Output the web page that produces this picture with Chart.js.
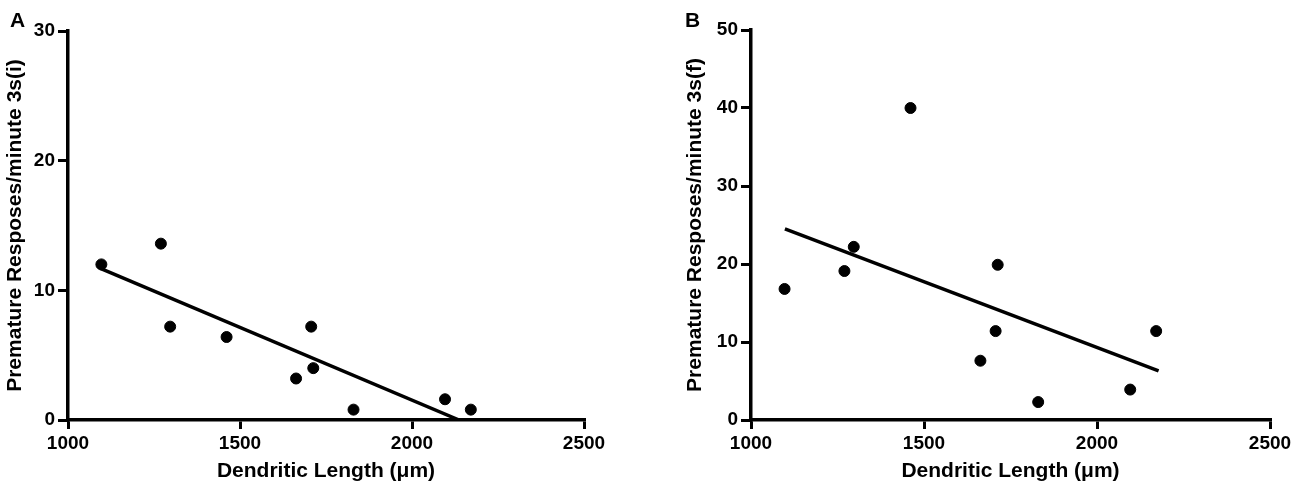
<!DOCTYPE html>
<html>
<head>
<meta charset="utf-8">
<script src="https://cdn.jsdelivr.net/npm/chart.js@4"></script>
<style>
  body { margin: 0; background: #fff; }
  #wrap { position: relative; width: 1300px; height: 493px; }
  .panel { position: absolute; top: 0; width: 650px; height: 493px; }
  .tag { position: absolute; top: 9px; font: bold 21px "Liberation Sans", Arial, sans-serif; line-height: 21px; color: #000; }
</style>
</head>
<body>
<div id="wrap">
  <div class="panel" style="left:0"><canvas id="chartA" width="650" height="493"></canvas></div>
  <div class="panel" style="left:650px"><canvas id="chartB" width="650" height="493"></canvas></div>
  <div class="tag" style="left:10px">A</div>
  <div class="tag" style="left:685px">B</div>
</div>
<script>
// DATA
const dendriticLength = [1097, 1270, 1297, 1461, 1663, 1707, 1713, 1830, 2096, 2171];
const responsesI = [12.0, 13.6, 7.2, 6.4, 3.2, 7.2, 4.0, 0.8, 1.6, 0.8];
const responsesF = [16.8, 19.1, 22.2, 40.0, 7.6, 11.4, 19.9, 2.3, 3.9, 11.4];

// fitted lines, endpoints
const fitI = [{x: 1094, y: 11.7}, {x: 2137, y: 0}];
const fitF = [{x: 1098, y: 24.5}, {x: 2178, y: 6.3}];

const xTicks = [1000, 1500, 2000, 2500];

const FONT = '"Liberation Sans", Arial, sans-serif';

function points(ys) {
    return dendriticLength.map((x, i) => ({x: x, y: ys[i]}));
}

function makeChart(id, ys, fit, yMax, yTitle, pad, yWidth) {
    return new Chart(document.getElementById(id), {
        type: 'scatter',
        data: {
            datasets: [{
                data: points(ys),
                backgroundColor: '#000',
                borderColor: '#000',
                pointRadius: 5.5,
                pointHoverRadius: 5.5
            }, {
                type: 'line',
                data: fit,
                borderColor: '#000',
                borderWidth: 3.5,
                pointRadius: 0,
                fill: false
            }]
        },
        options: {
            responsive: false,
            animation: false,
            layout: { padding: { left: pad.left, right: pad.right, top: pad.top, bottom: 0 } },
            plugins: { legend: { display: false }, tooltip: { enabled: false } },
            scales: {
                x: {
                    type: 'linear',
                    min: 1000,
                    max: 2500,
                    afterBuildTicks: s => { s.ticks = xTicks.map(v => ({value: v})); },
                    afterFit: s => { s.height = 493 - 420; },
                    border: { display: true, color: '#000', width: 3.5 },
                    grid: { display: true, drawOnChartArea: false, drawTicks: true, tickLength: 9, lineWidth: 3, color: '#000' },
                    ticks: {
                        color: '#000', padding: 3, maxRotation: 0,
                        callback: v => String(v),
                        font: { family: FONT, size: 19, weight: 'bold' }
                    },
                    title: {
                        display: true,
                        text: 'Dendritic Length (\u03bcm)',
                        color: '#000',
                        padding: { top: 0, bottom: 9 },
                        font: { family: FONT, size: 21, weight: 'bold' }
                    }
                },
                y: {
                    min: 0,
                    max: yMax,
                    afterFit: s => { s.width = yWidth; },
                    border: { display: true, color: '#000', width: 3.5 },
                    grid: { display: true, drawOnChartArea: false, drawTicks: true, tickLength: 10, lineWidth: 3, color: '#000' },
                    ticks: {
                        stepSize: 10, color: '#000', padding: 3,
                        callback: v => String(v),
                        font: { family: FONT, size: 19, weight: 'bold' }
                    },
                    title: {
                        display: true,
                        text: yTitle,
                        color: '#000',
                        padding: { top: 3, bottom: 0 },
                        font: { family: FONT, size: 21, weight: 'bold' }
                    }
                }
            }
        }
    });
}

// PANEL A
const chartA = makeChart('chartA', responsesI, fitI, 30, 'Premature Resposes/minute 3s(i)',
    { left: 0, right: 66, top: 31 }, 68);

// PANEL B
const chartB = makeChart('chartB', responsesF, fitF, 50, 'Premature Resposes/minute 3s(f)',
    { left: 30, right: 30, top: 30 }, 71);
</script>
</body>
</html>
